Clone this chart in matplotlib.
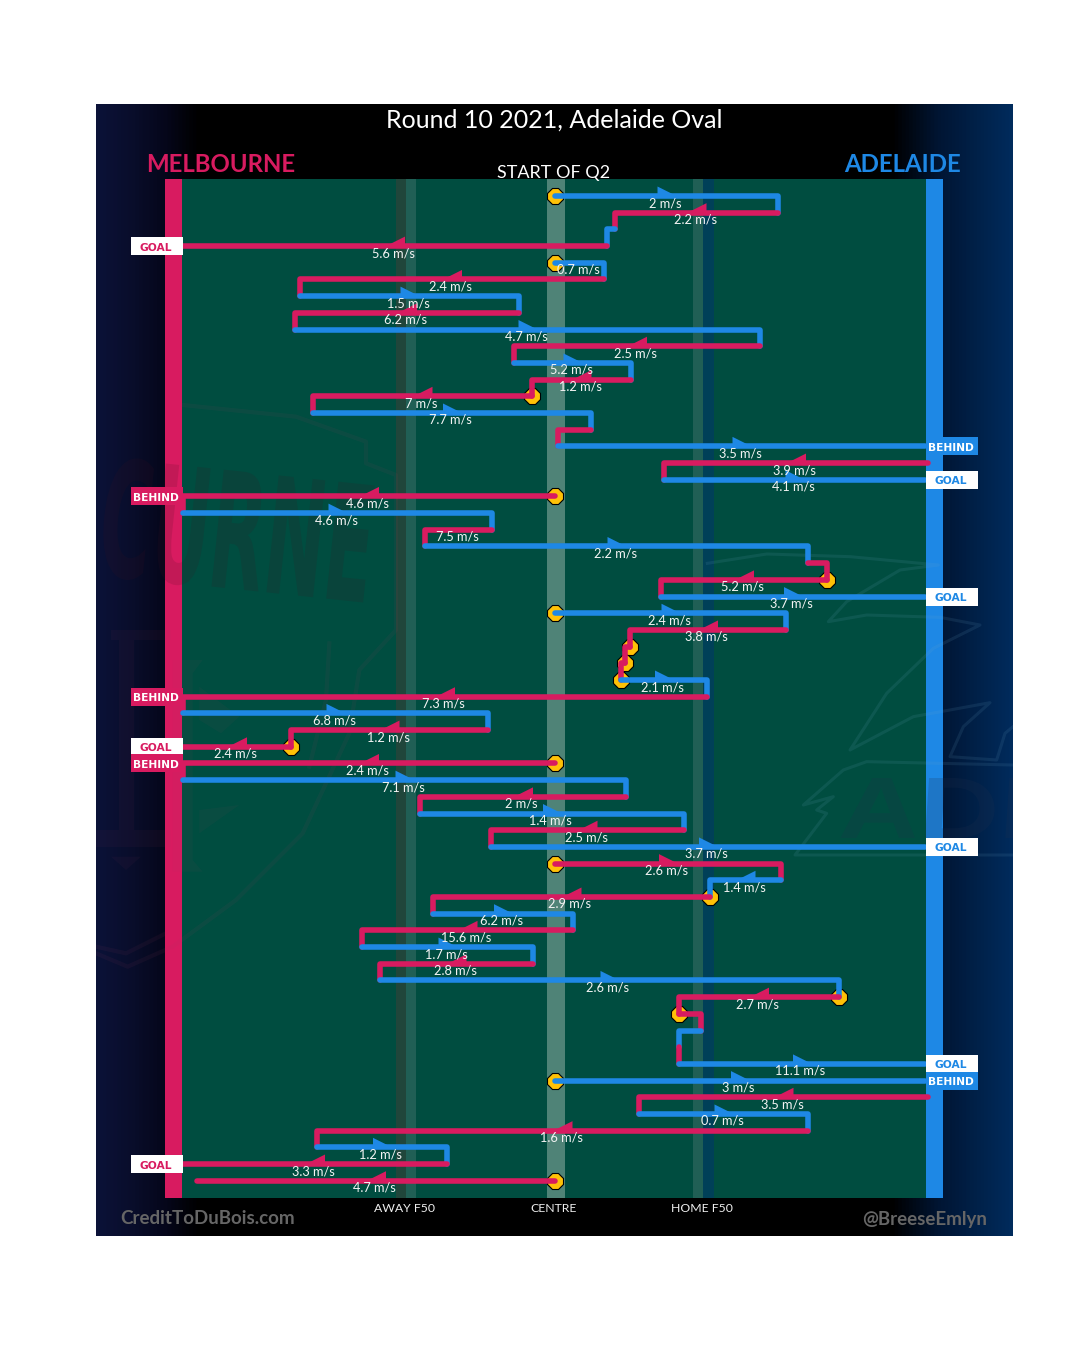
import matplotlib
matplotlib.use('Agg')
import matplotlib.pyplot as plt
import numpy as np
from matplotlib.colors import LinearSegmentedColormap
from matplotlib.font_manager import FontProperties
from matplotlib.patches import PathPatch, Rectangle
from matplotlib.path import Path
from matplotlib.textpath import TextPath

PINK = '#D81B60'
BLUE = '#1E88E5'
GOLD = '#FFC107'
GREEN = '#004D40'
FONT = ['Lato', 'DejaVu Sans']

# one entry per row of the chain, top to bottom (M = Melbourne, A = Adelaide)
teams = ['A', 'M', 'A', 'M', 'A', 'M', 'A', 'M', 'A', 'M',
         'A', 'M', 'M', 'A', 'M', 'A', 'M', 'A', 'M', 'A',
         'M', 'A', 'M', 'M', 'A', 'A', 'M', 'M', 'M', 'A',
         'M', 'A', 'M', 'M', 'M', 'A', 'M', 'A', 'M', 'A',
         'M', 'A', 'M', 'A', 'M', 'A', 'M', 'A', 'M', 'M',
         'A', 'M', 'A', 'A', 'M', 'A', 'M', 'A', 'M', 'M']
x_from = [555, 778, 615, 607, 555, 604, 300, 519, 295, 760,
          514, 631, 532, 313, 591, 558, 928, 664, 555, 183,
          492, 425, 808, 827, 661, 555, 786, 630, 625, 621,
          707, 183, 488, 291, 555, 183, 626, 420, 684, 491,
          555, 781, 710, 433, 573, 362, 533, 380, 839, 679,
          701, 679, 679, 555, 928, 639, 808, 317, 447, 555]
x_to = [778, 615, 607, 183, 604, 300, 519, 295, 760, 514,
        631, 532, 313, 591, 558, 925, 664, 925, 183, 492,
        425, 808, 827, 661, 925, 786, 630, 625, 621, 707,
        183, 488, 291, 183, 183, 626, 420, 684, 491, 925,
        781, 710, 433, 573, 362, 533, 380, 839, 679, 701,
        679, 679, 925, 925, 639, 808, 317, 447, 183, 197]
speeds = [2, 2.2, None, 5.6, 0.7, 2.4, 1.5, 6.2, 4.7, 2.5,
          5.2, 1.2, 7, 7.7, None, 3.5, 3.9, 4.1, 4.6, 4.6,
          7.5, 2.2, None, 5.2, 3.7, 2.4, 3.8, None, None, 2.1,
          7.3, 6.8, 1.2, 2.4, 2.4, 7.1, 2, 1.4, 2.5, 3.7,
          2.6, 1.4, 2.9, 6.2, 15.6, 1.7, 2.8, 2.6, 2.7, None,
          None, None, 11.1, 3, 3.5, 0.7, 1.6, 1.2, 3.3, 4.7]

# rows that start from a ball-up / throw-in
stoppage_rows = [0, 4, 12, 18, 23, 25, 27, 28, 29, 33, 34, 40, 42, 48, 49, 53, 59]
stoppage_x = [555, 555, 532, 555, 827, 555, 630, 625, 621, 291, 555, 555, 710, 839, 679, 555, 555]

# scoring shots
score_rows = [3, 15, 17, 18, 24, 30, 33, 34, 39, 52, 53, 58]
score_kinds = ['GOAL', 'BEHIND', 'GOAL', 'BEHIND', 'GOAL', 'BEHIND', 'GOAL', 'BEHIND',
               'GOAL', 'GOAL', 'BEHIND', 'GOAL']

TITLE = 'Round 10 2021, Adelaide Oval'
SUBTITLE = 'START OF Q2'
ZONE_LABELS = ['AWAY F50', 'CENTRE', 'HOME F50']
ZONE_X = [405, 554, 702]

ROW_PX = 16.69

# faint outlines of the club logos behind the pitch, in zoomed crop pixels
CROW_LINES = [
    [(22, 100), (200, 72), (450, 80), (715, 105), (600, 120), (440, 215), (385, 275), (500, 255),
     (720, 262), (840, 285), (700, 355), (560, 490), (450, 660), (640, 560), (870, 518),
     (790, 590), (750, 680), (890, 690), (915, 610), (939, 590)],
    [(939, 705), (500, 695), (430, 720), (310, 825), (400, 800), (350, 840), (380, 850), (285, 975), (939, 975)],
]
SHIELD_LINES = [
    [(260, 15), (600, 50), (810, 125), (810, 190), (900, 225), (900, 690), (790, 810), (760, 1000),
     (620, 1300), (420, 1500), (230, 1640), (95, 1700), (0, 1660)],
    [(700, 730), (690, 900), (640, 1100)],
    [(0, 1640), (90, 1660), (210, 1600)],
]
SHIELD_BLOCKS = [
    [(45, 690), (225, 690), (225, 720), (115, 720), (115, 1290), (225, 1290), (225, 1340), (0, 1340),
     (0, 1290), (70, 1290), (70, 720), (45, 720)],
    [(45, 1370), (135, 1370), (90, 1410)],
    [(230, 780), (320, 780), (290, 820), (290, 1380), (320, 1415), (230, 1415)],
    [(310, 860), (430, 950), (375, 1000), (310, 960)],
    [(310, 1230), (430, 1215), (310, 1300)],
]


def px_y(y):
    # figure pixel height -> row units
    return (y - 196) / ROW_PX


def rect(ax, x0, x1, y0, y1, color, z=1, **kw):
    ax.add_patch(Rectangle((x0, px_y(y0)), x1 - x0, px_y(y1) - px_y(y0),
                           facecolor=color, edgecolor='none', zorder=z, **kw))


def logo_word(ax, word, cx, cy, width, height, angle, shear, prop, color, alpha, clip):
    # logo lettering is part of a background image, so it is drawn as a shape
    tp = TextPath((0, 0), word, size=100, prop=prop)
    v = tp.vertices.copy()
    lo, hi = v.min(axis=0), v.max(axis=0)
    v = (v - (lo + hi) / 2) / (hi - lo)
    xs = v[:, 0] * width - v[:, 1] * height * shear
    ys = -v[:, 1] * height
    a = np.radians(angle)
    px = cx + xs * np.cos(a) - ys * np.sin(a)
    py = cy + xs * np.sin(a) + ys * np.cos(a)
    patch = PathPatch(Path(np.column_stack([px, px_y(py)]), tp.codes), facecolor=color,
                      edgecolor='none', alpha=alpha, zorder=4.5)
    ax.add_patch(patch)
    patch.set_clip_path(clip)


def logo_line(ax, pts, ox, oy, color, alpha, clip, lw=2.2):
    xs = [ox + p[0] / 3 for p in pts]
    ys = [px_y(oy + p[1] / 3) for p in pts]
    ln, = ax.plot(xs, ys, color=color, alpha=alpha, lw=lw, zorder=4.5, solid_joinstyle='round')
    ln.set_clip_path(clip)


fig = plt.figure(figsize=(10.8, 13.55), dpi=100)
ax = fig.add_axes([0, 0, 1, 1])
ax.axis('off')

# panel with the team colour fades at both sides
stops = [(0.0, '#0B1238'), (0.04, '#090D2A'), (0.075, '#05061A'), (0.11, '#000000'),
         (0.87, '#000000'), (0.92, '#001533'), (1.0, '#002B5C')]
cmap = LinearSegmentedColormap.from_list('fade', stops)
ax.imshow(np.linspace(0, 1, 512)[None, :], cmap=cmap, aspect='auto', zorder=0,
          extent=(96, 1013, px_y(1236), px_y(104)))
ax.set_xlim(0, 1080)
ax.set_ylim(px_y(1355), px_y(0))

# pitch
rect(ax, 165, 943, 179, 1198, GREEN, z=1)
rect(ax, 396, 406, 179, 1198, '#20463B', z=2)
rect(ax, 406, 416, 179, 1198, '#205F55', z=2)
rect(ax, 547, 565, 179, 1198, '#4F8377', z=2)
rect(ax, 693, 703, 179, 1198, '#205F55', z=2)
rect(ax, 703, 714, 179, 1198, '#004058', z=2)

# goal line strips
rect(ax, 165, 182, 179, 1198, PINK, z=4)
rect(ax, 926, 943, 179, 1198, BLUE, z=4)

# faded club watermarks over the pitch and the panel
clip = Rectangle((96, px_y(1198)), 917, px_y(179) - px_y(1198), transform=ax.transData)
narrow = FontProperties(family=['Liberation Sans Narrow'], weight='bold')
heavy = FontProperties(family=['Liberation Sans'], weight='bold', style='italic')
logo_word(ax, 'CURNE', 235, 530, 270, 122, 6, 0, narrow, '#40101E', 0.14, clip)
logo_word(ax, 'ADE', 955, 808, 240, 60, 0, 0.18, heavy, '#20304E', 0.2, clip)
for pts in CROW_LINES:
    logo_line(ax, pts, 700, 530, '#6FA8C8', 0.12, clip)
for pts in SHIELD_LINES:
    logo_line(ax, pts, 96, 400, '#A04060', 0.08, clip, lw=3.0)
for pts in SHIELD_BLOCKS:
    patch = ax.fill([96 + p[0] / 3 for p in pts], [px_y(400 + p[1] / 3) for p in pts],
                    color='#A04060', alpha=0.06, lw=0, zorder=4.5)[0]
    patch.set_clip_path(clip)

# stoppage markers sit under the chain
ax.plot(stoppage_x, stoppage_rows, linestyle='none', marker='8', ms=12.3, mfc=GOLD,
        mec='black', mew=0.8, zorder=5)

# chain: horizontal run, then a drop to the next row when play carries on
for i in range(len(x_from)):
    colour = PINK if teams[i] == 'M' else BLUE
    xs = [x_from[i], x_to[i]]
    ys = [i, i]
    if i + 1 < len(x_from) and x_from[i + 1] == x_to[i]:
        xs.append(x_to[i])
        ys.append(i + 1)
    ax.plot(xs, ys, color=colour, lw=4.0, solid_capstyle='round', solid_joinstyle='round',
            zorder=6 + i * 0.01)

    length = abs(x_to[i] - x_from[i])
    mid = (x_from[i] + x_to[i]) / 2
    if length > 70:
        d = 1 if x_to[i] > x_from[i] else -1
        tip = mid + (8 if d > 0 else -7)
        back = mid - (9 if d > 0 else -10)
        # half arrow head that rises out of the top of the line
        ax.fill([back, tip, back], [i, i - 1.0 / ROW_PX, i - 9.5 / ROW_PX], color=colour,
                lw=0, zorder=6 + i * 0.01)
    if speeds[i] is not None:
        ax.text(mid - 1.5, i + 0.42, f'{speeds[i]} m/s', color='#F4F4F4', fontsize=9.2, family=FONT,
                ha='center', va='center', zorder=8)

# score tags
for row, kind in zip(score_rows, score_kinds):
    left = x_to[row] < 500
    x0 = 131 if left else 926
    colour = PINK if left else BLUE
    face, ink = ('white', colour) if kind == 'GOAL' else (colour, 'white')
    y0 = 196 + row * ROW_PX - 9
    rect(ax, x0, x0 + 52, y0, y0 + 18, face, z=9)
    ax.text(x0 + 24.7, px_y(y0 + 10.5), kind, color=ink, fontsize=7.7, fontweight='bold',
            family='DejaVu Sans', ha='center', va='center', zorder=10)

# headings
ax.text(554, px_y(120), TITLE, color='white', fontsize=18, family=FONT, ha='center', va='center', zorder=10)
ax.text(221, px_y(165), 'MELBOURNE', color=PINK, fontsize=17.3, family=FONT, fontweight='bold',
        ha='center', va='center', zorder=10)
ax.text(903, px_y(165), 'ADELAIDE', color=BLUE, fontsize=17.3, family=FONT, fontweight='bold',
        ha='center', va='center', zorder=10)
ax.text(554, px_y(173), SUBTITLE, color='white', fontsize=13, family=FONT, ha='center', va='center', zorder=10)
for x, label in zip(ZONE_X, ZONE_LABELS):
    ax.text(x, px_y(1209), label, color='#EEEEEE', fontsize=8.8, family=FONT, ha='center', va='center', zorder=10)
ax.text(208, px_y(1219), 'CreditToDuBois.com', color='#666666', fontsize=13.5, family=FONT,
        fontweight='bold', ha='center', va='center', zorder=10)
ax.text(925, px_y(1219), '@BreeseEmlyn', color='#666666', fontsize=13.5, family=FONT,
        fontweight='bold', ha='center', va='center', zorder=10)

fig.savefig('out.png', dpi=100, facecolor='white')
